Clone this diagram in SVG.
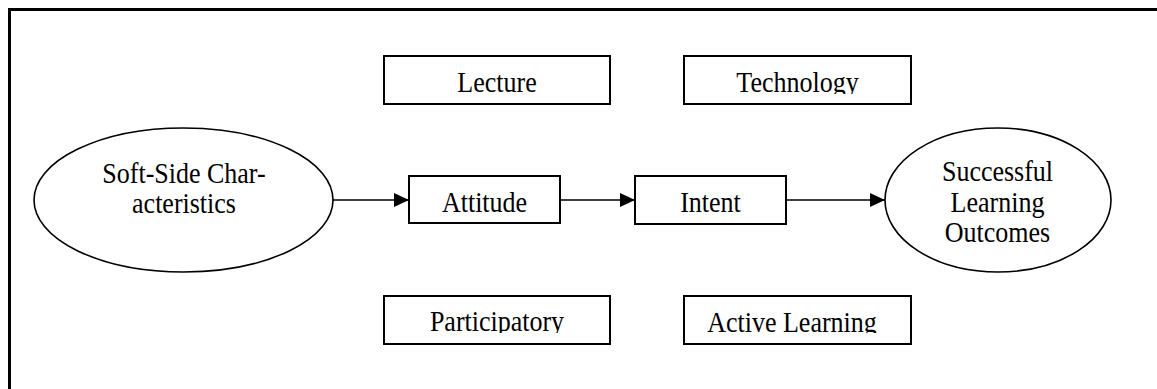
<svg xmlns="http://www.w3.org/2000/svg" width="1157" height="389" viewBox="0 0 1157 389">
<style>
.box{fill:#fff;stroke:#000;stroke-width:2}
.ell{fill:#fff;stroke:#000;stroke-width:1.6}
.lbl{font-family:"Liberation Serif","Times New Roman",serif;font-size:26px;fill:#000;text-anchor:middle}
.con{stroke:#000;stroke-width:1.6;fill:none}
</style>
<defs>
<marker id="arr" markerUnits="userSpaceOnUse" markerWidth="16" markerHeight="14" refX="15" refY="7" orient="auto">
<path d="M0,0 L15,7 L0,14 Z" fill="#000"/>
</marker>
<clipPath id="clipTop"><rect x="0" y="0" width="1157" height="94"/></clipPath>
<clipPath id="clipBot"><rect x="0" y="0" width="1157" height="333"/></clipPath>
</defs>
<rect x="0" y="0" width="1157" height="389" fill="#fff"/>
<rect x="9.5" y="9.5" width="1200" height="500" fill="none" stroke="#000" stroke-width="3"/>
<g id="connectors">
<line class="con" x1="333" y1="200" x2="409" y2="200" marker-end="url(#arr)"/>
<line class="con" x1="560" y1="200" x2="635" y2="200" marker-end="url(#arr)"/>
<line class="con" x1="786" y1="200" x2="885" y2="200" marker-end="url(#arr)"/>
</g>
<g id="soft-side">
<ellipse class="ell" cx="183.5" cy="200" rx="149.5" ry="72"/>
<text class="lbl" transform="translate(184,182.5) scale(1,1.16)">Soft-Side Char-</text>
<text class="lbl" transform="translate(184,212.5) scale(1,1.16)">acteristics</text>
</g>
<g id="lecture">
<rect class="box" x="384" y="56" width="226" height="48"/>
<g clip-path="url(#clipTop)"><text class="lbl" transform="translate(497,92) scale(1,1.16)">Lecture</text></g>
</g>
<g id="technology">
<rect class="box" x="684" y="56" width="227" height="48"/>
<g clip-path="url(#clipTop)"><text class="lbl" transform="translate(797.5,92) scale(1,1.16)">Technology</text></g>
</g>
<g id="attitude">
<rect class="box" x="409" y="176" width="151" height="47"/>
<text class="lbl" transform="translate(484.5,212) scale(1,1.16)">Attitude</text>
</g>
<g id="intent">
<rect class="box" x="635" y="176" width="151" height="48"/>
<text class="lbl" transform="translate(710.5,212) scale(1,1.16)">Intent</text>
</g>
<g id="participatory">
<rect class="box" x="384" y="296" width="226" height="48"/>
<g clip-path="url(#clipBot)"><text class="lbl" transform="translate(497,331) scale(1,1.16)">Participatory</text></g>
</g>
<g id="active-learning">
<rect class="box" x="684" y="296" width="227" height="48"/>
<g clip-path="url(#clipBot)"><text class="lbl" transform="translate(792,331.5) scale(1,1.16)">Active Learning</text></g>
</g>
<g id="outcomes">
<ellipse class="ell" cx="998" cy="200" rx="113" ry="72"/>
<text class="lbl" transform="translate(997.5,181) scale(1,1.16)">Successful</text>
<text class="lbl" transform="translate(997.5,211.5) scale(1,1.16)">Learning</text>
<text class="lbl" transform="translate(997.5,241.5) scale(1,1.16)">Outcomes</text>
</g>
</svg>
